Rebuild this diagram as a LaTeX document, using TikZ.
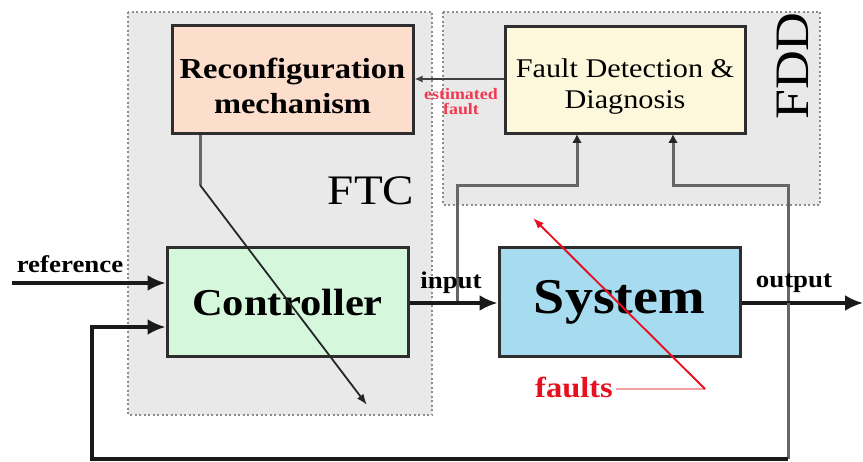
\documentclass[tikz,border=0pt]{standalone}
\usepackage{fontspec}
\setmainfont{Liberation Serif}[FakeStretch=1.12]
\usetikzlibrary{arrows.meta}
\definecolor{regionfill}{HTML}{E9E9E9}
\definecolor{regionedge}{HTML}{8C8C8C}
\definecolor{boxedge}{HTML}{2E2E2E}
\definecolor{reconfill}{HTML}{FDDDCB}
\definecolor{fddfill}{HTML}{FDF8DC}
\definecolor{ctrlfill}{HTML}{D5F8DC}
\definecolor{sysfill}{HTML}{A6DBF0}
\definecolor{sigline}{HTML}{666666}
\definecolor{faultred}{HTML}{E8101E}
\definecolor{faultpink}{HTML}{F5A0A6}
\definecolor{estred}{HTML}{F03A50}
\tikzset{
  region/.style={draw=regionedge, fill=regionfill, line width=2pt, dash pattern=on 2pt off 2.5pt},
  block/.style={draw=boxedge, line width=3pt, align=center, inner sep=0pt},
  mainflow/.style={line width=3.2pt, draw=black!90, -{Latex[length=18pt,width=16pt]}},
  sensor/.style={line width=3pt, draw=sigline, -{Latex[length=9pt,width=10pt,color=black!85]}},
  thinarrow/.style={line width=1.8pt, draw=black!85, -{Latex[length=11pt,width=8pt]}},
  sig/.style={font=\fontsize{24}{26}\selectfont\bfseries, anchor=base, inner sep=0pt},
  estimate/.style={font=\fontsize{16}{16}\selectfont\bfseries, text=estred, anchor=base, inner sep=0pt},
}
\begin{document}
\begin{tikzpicture}[x=1pt,y=-1pt]
\useasboundingbox (0,0) rectangle (863,462);

% FTC and FDD regions
\draw[region] (128,12) rectangle (432,415);
\draw[region] (443,12) rectangle (820,205);
\node[font=\fontsize{42}{44}\selectfont, anchor=base, inner sep=0pt] (ftclabel) at (371,205) {FTC};
\node[font=\fontsize{48}{50}\selectfont, rotate=90, anchor=base, inner sep=0pt] (fddlabel) at (808,66) {FDD};

% blocks
\node[block, fill=reconfill, minimum width=241pt, minimum height=108pt,
      label={[yshift=-6pt, align=center, font=\fontsize{29}{35}\selectfont\bfseries]center:Reconfiguration\\mechanism}] (recon) at (292.5,80) {};
\node[block, fill=fddfill, minimum width=240pt, minimum height=107pt,
      label={[yshift=-6pt, align=center, font=\fontsize{27}{31}\selectfont]center:Fault Detection \&\\Diagnosis}] (fdd) at (625,80.5) {};
\node[block, fill=ctrlfill, minimum width=241pt, minimum height=109pt,
      font=\fontsize{38}{40}\selectfont\bfseries] (ctrl) at (287.5,302.5) {Controller};
\node[block, fill=sysfill, minimum width=241pt, minimum height=109pt,
      font=\fontsize{50}{52}\selectfont\bfseries] (sys) at (619.5,302.5) {System};

% junction points
\coordinate (refin) at (12,283);
\coordinate (inpt) at (457,303);
\coordinate (outpt) at (788,303);
\coordinate (outend) at (863,303);
\coordinate (fbbottom) at (788,459);
\coordinate (fbleft) at (92,459);
\coordinate (recbend) at (200,185);
\coordinate (recend) at (367,405);
\coordinate (faultstart) at (705,389);
\coordinate (faultend) at (533,218);

% FDD measurement taps
\draw[sensor] (inpt) |- (577,186) -- (577,134);
\draw[sensor] (outpt) |- (673,186) -- (673,134);

% estimated fault
\draw[line width=2pt, draw=black!75, -{Latex[length=8pt,width=7pt]}] (fdd.west |- 0,79) -- (recon.east |- 0,79);
\node[estimate] (estlabel) at (461,100) {estimated};
\node[estimate] (estfault) at (461,115) {fault};

% main signal path
\draw[mainflow] (refin) -- (ctrl.west |- refin);
\draw[mainflow] (ctrl.east |- inpt) -- (sys.west |- inpt);
\draw[mainflow] (sys.east |- outpt) -- (outend);
\draw[line width=3pt, draw=sigline] (outpt) -- (fbbottom);
\draw[mainflow] (fbbottom) -- (fbleft) |- (ctrl.west |- 0,327);

% reconfiguration action
\draw[line width=3pt, draw=sigline] (recon.south -| recbend) -- (recbend);
\draw[thinarrow] (recbend) -- (recend);

% faults
\node[font=\fontsize{29}{30}\selectfont\bfseries, text=faultred, anchor=base, inner sep=0pt] (faults) at (574,398) {faults};
\draw[line width=2.2pt, draw=faultpink] ([xshift=3pt]faults.east |- faultstart) -- (faultstart);
\draw[line width=1.9pt, draw=faultred, -{Latex[length=11pt,width=8pt]}] (faultstart) -- (faultend);

% signal labels
\node[sig] (reflabel) at (70,273) {reference};
\node[sig] (inlabel) at (451,289) {input};
\node[sig] (outlabel) at (794,288) {output};
\end{tikzpicture}
\end{document}
